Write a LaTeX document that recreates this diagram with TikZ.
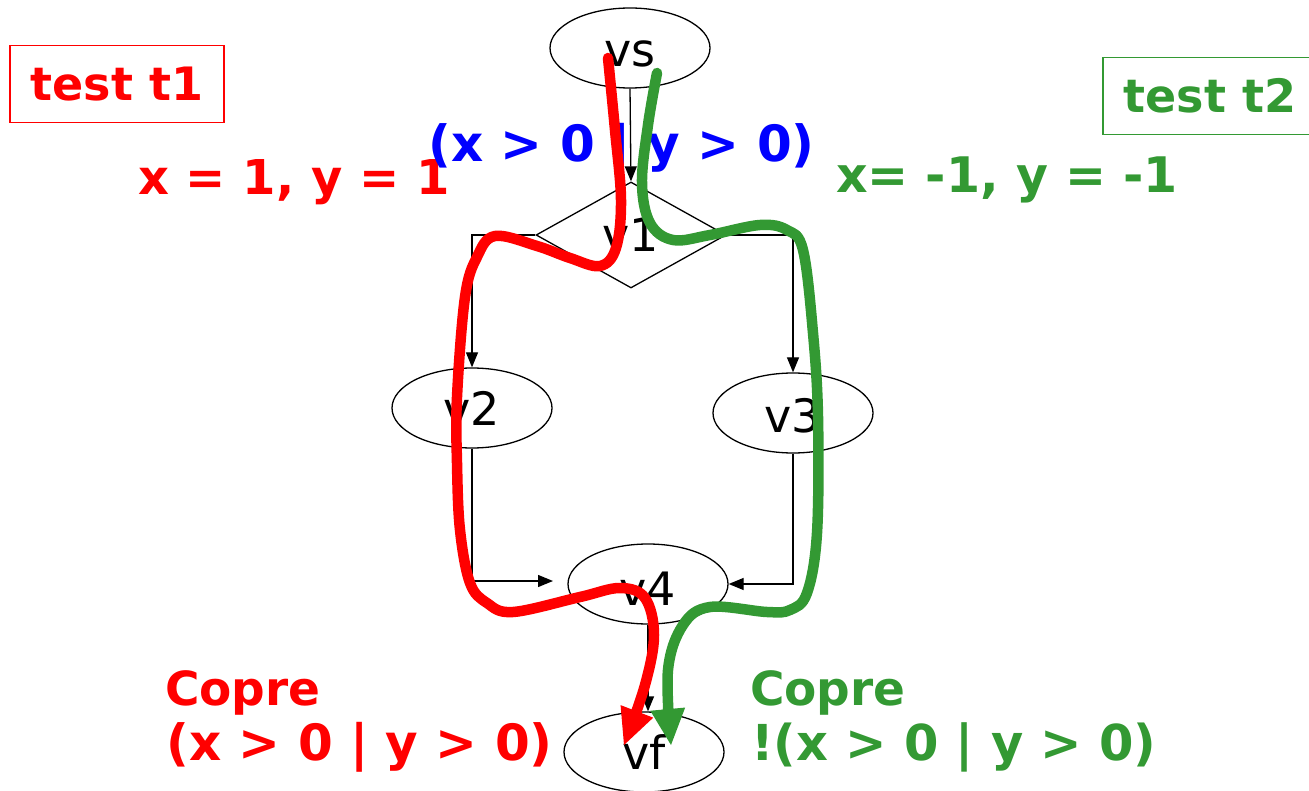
\documentclass[tikz,border=0pt]{standalone}
\usepackage{fontspec}
\setmainfont{DejaVu Sans}
\usetikzlibrary{shapes.geometric,arrows.meta}
\definecolor{tred}{RGB}{255,0,0}
\definecolor{tgreen}{RGB}{51,153,51}
\definecolor{tblue}{RGB}{0,0,255}
\begin{document}
\begin{tikzpicture}[x=1pt,y=-1pt,
  every node/.style={inner sep=0pt},
  ell/.style={ellipse, draw, line width=1.3pt, minimum width=160pt, minimum height=80pt, font=\fontsize{46}{50}\selectfont},
  dia/.style={diamond, draw, line width=1.3pt, minimum width=190pt, minimum height=106pt, aspect=1.8, font=\fontsize{46}{50}\selectfont},
  arr/.style={line width=1.3pt, -{Triangle[length=15pt,width=12pt]}},
  lbl/.style={font=\fontsize{#1}{52}\selectfont\bfseries, anchor=base west},
  testbox/.style={draw, line width=1.5pt, minimum width=214pt, minimum height=77pt, font=\fontsize{46}{50}\selectfont\bfseries},
  trace/.style={line width=10.5pt, line cap=round, line join=round, -{Triangle[length=36pt,width=35pt,line width=0pt]}},
]
\useasboundingbox (0,0) rectangle (1309,791);
\clip (0,0) rectangle (1309,791);

% graph nodes
\node[ell, text height=37pt] (vs) at (630,48) {vs};
\node[dia] (v1) at (631,235) {v1};
\node[ell] (v2) at (472,408) {v2};
\node[ell, text height=40pt] (v3) at (793,413) {v3};
\node[ell, text height=43pt] (v4) at (648,584) {v4};
\node[ell] (vf) at (644,752) {vf};
\coordinate (v4in) at (553,581);

% connectors
\draw[arr] (vs.south) -- (v1.north);
\draw[arr] (v1.west) -| (v2.north);
\draw[arr] (v1.east) -| (v3.north);
\draw[arr] (v2.south) |- (v4in);
\draw[arr] (v3.south) |- (v4.east);
\draw[arr] (v4.south) -- (v4.south |- vf.north);

% labels
\node[testbox, text=tred, draw=tred] (t1) at (117,84) {test t1};
\node[testbox, text=tgreen, draw=tgreen] (t2) at (1210,96) {test t2};
\node[lbl=48, text=tred] (in1) at (138,195) {x = 1, y = 1};
\node[lbl=50, text=tblue] (cond) at (428,162) {(x > 0 | y > 0)};
\node[lbl=49, text=tgreen] (in2) at (836,193) {x= -1, y = -1};
\node[lbl=47, text=tred] (c1a) at (165,705) {Copre};
\node[lbl=50, text=tred] (c1b) at (166,760) {(x > 0 | y > 0)};
\node[lbl=47, text=tgreen] (c2a) at (750,705) {Copre};
\node[lbl=49.5, text=tgreen] (c2b) at (751,760) {!(x > 0 | y > 0)};

% test traces
\draw[trace, tred] plot[smooth, tension=0.6] coordinates {
  (608,58) (615,130) (621,200) (616,248) (600,266) (570,258) (537,246)
  (495,236) (477,257) (465,297) (457,397) (457,463) (460,530) (470,583)
  (487,603) (513,612) (580,597) (620,588) (645,598) (654,635) (645,685) (624,745)};
\draw[trace, tgreen] plot[smooth, tension=0.6] coordinates {
  (657,73) (648,125) (642,183) (650,223) (673,240) (710,235) (760,225)
  (787,230) (803,250) (813,333) (818,417) (817,533) (807,593) (790,610)
  (767,612) (710,607) (683,625) (668,670) (671,745)};
\end{tikzpicture}
\end{document}
